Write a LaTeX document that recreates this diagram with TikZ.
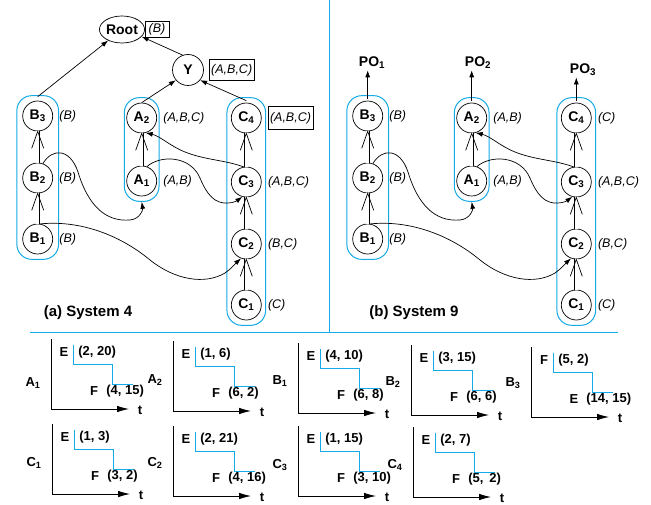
\documentclass[tikz,border=0pt]{standalone}
\usepackage{fontspec}
\setmainfont{Liberation Sans}
\usetikzlibrary{arrows.meta,positioning,shapes.geometric,fit}
\definecolor{grpblue}{RGB}{20,170,230}

\begin{document}
\begin{tikzpicture}[x=1pt, y=-1pt, line width=0.7pt,
    st/.style={circle, draw, minimum size=30pt, inner sep=0pt, font=\fontsize{14}{16}\selectfont\bfseries},
    lab/.style={inner sep=1pt, font=\fontsize{12.5}{14}\selectfont\itshape},
    tagbox/.style={draw, inner sep=2pt, font=\fontsize{12.5}{14}\selectfont\itshape},
    grp/.style={draw=grpblue, line width=1pt, rounded corners=15pt, inner ysep=5pt},
    arr/.style={-{Latex[length=7pt,width=5pt]}},
    dbl/.style={double, double distance=2.6pt, line width=0.6pt},
    po/.style={inner sep=1pt, font=\fontsize{14}{16}\selectfont\bfseries},
    ttl/.style={font=\fontsize{15}{17}\selectfont\bfseries},
    plt/.style={inner sep=0pt, font=\fontsize{13}{15}\selectfont\bfseries},
    axis/.style={line width=0.8pt, -{Latex[length=12pt,width=6.5pt]}},
    stair/.style={draw=grpblue, line width=0.9pt}]

  \useasboundingbox (0,0) rectangle (651,505);

  % both systems: same states, groups and data links
  \foreach \sys/\dx in {a/0, b/330} {
    \begin{scope}[xshift=\dx]
      \foreach \k/\y in {1/239, 2/178, 3/116} \node[st] (\sys-B\k) at (37.7,\y) {B\textsubscript{\k}};
      \foreach \k/\y in {1/181, 2/118} \node[st] (\sys-A\k) at (141.7,\y) {A\textsubscript{\k}};
      \foreach \k/\y in {1/305, 2/244, 3/182, 4/118} \node[st] (\sys-C\k) at (246.3,\y) {C\textsubscript{\k}};
      \node[grp, inner xsep=5.5pt, fit=(\sys-B1)(\sys-B3)] (\sys-gB) {};
      \node[grp, inner xsep=2pt, fit=(\sys-A1)(\sys-A2)] (\sys-gA) {};
      \node[grp, inner xsep=4pt, fit=(\sys-C1)(\sys-C4)] (\sys-gC) {};
      % refinement inside a chain
      \foreach \lo/\hi in {B1/B2, B2/B3, A1/A2, C1/C2, C2/C3, C3/C4} {
        \draw[dbl] (\sys-\lo) -- (\sys-\hi);
        \draw ([shift={(-6pt,-17pt)}]\sys-\hi.south) -- (\sys-\hi.south) -- ([shift={(6pt,-17pt)}]\sys-\hi.south);
      }
      % links between chains
      \draw[arr] (\sys-B2.70) .. controls (52,148) and (70,148) .. (78,172)
        .. controls (88,205) and (105,222) .. (130,220) .. controls (140,219) and (143,210) .. (\sys-gA.south);
      \draw[arr] (\sys-B1.80) .. controls (80,220) and (120,235) .. (150,260)
        .. controls (175,280) and (205,285) .. (225,273) .. controls (232,268) and (237,262) .. (\sys-C2.-110);
      \draw[arr] (\sys-A1.70) .. controls (160,155) and (190,155) .. (200,178)
        .. controls (207,195) and (215,204) .. (228,203) .. controls (234,203) and (238,200) .. (\sys-C3.-105);
      \draw[arr] (\sys-C3.100) .. controls (225,160) and (205,160) .. (185,152)
        .. controls (170,146) and (160,136) .. (\sys-A2.-75);
      \foreach \nd/\txt in {B1/(B), B2/(B), B3/(B), A1/{(A,B)}, C1/(C), C2/{(B,C)}, C3/{(A,B,C)}}
        \node[lab, right=5pt of \sys-\nd] (\sys-l\nd) {\txt};
    \end{scope}
  }

  % system 4: common root
  \node[ellipse, draw, minimum width=44pt, minimum height=27pt, inner sep=0pt,
    font=\fontsize{14}{16}\selectfont\bfseries] (root) at (122,29.5) {Root};
  \node[tagbox, inner xsep=3.5pt, minimum height=16pt, right=0pt of root] (root-tag) {(B)};
  \node[st, minimum size=31pt] (Y) at (188,70) {Y};
  \node[tagbox, minimum height=21pt, right=5pt of Y] (Y-tag) {(A,B,C)};
  \node[tagbox, minimum height=23pt, right=6pt of a-C4] (a-lC4) {(A,B,C)};
  \node[lab, right=5pt of a-A2] (a-lA2) {(A,B,C)};
  \draw[arr] ([yshift=4pt]a-B3.north) -- (root);
  \draw[arr] (Y.110) -- (root.-20);
  \draw[arr] (a-A2.north) -- (Y.-140);
  \draw[arr] ([yshift=2pt]a-C4.north) -- (Y.-40);
  \node[ttl] (ttl-a) at (88,313) {(a) System 4};

  % system 9: one output per chain
  \node[lab, right=5pt of b-A2] (b-lA2) {(A,B)};
  \node[lab, right=5pt of b-C4] (b-lC4) {(C)};
  \node[po] (po1) at (372,63) {PO\textsubscript{1}};
  \node[po] (po2) at (478,63) {PO\textsubscript{2}};
  \node[po] (po3) at (583,70) {PO\textsubscript{3}};
  \draw[arr] ([yshift=2pt]b-B3.north) -- (b-B3.north |- po1.south);
  \draw[arr] ([yshift=2pt]b-A2.north) -- (b-A2.north |- po2.south);
  \draw[arr] ([yshift=2pt]b-C4.north) -- (b-C4.north |- po3.south);
  \node[ttl] (ttl-b) at (414,313) {(b) System 9};

  \draw[grpblue] (329,0) -- (329,332);
  \draw[grpblue] (30,332) -- (618,332);

  % timing of each state: name, origin, name height, upper and lower step
  \foreach \nl/\ox/\oy/\ly/\ua/\uv/\la/\lv [count=\i] in {
      A\textsubscript{1}/51/409/383/E/{(2, 20)}/F/{(4, 15)},
      A\textsubscript{2}/173/411/380/E/{(1, 6)}/F/{(6, 2)},
      B\textsubscript{1}/298/413/381/E/{(4, 10)}/F/{(6, 8)},
      B\textsubscript{2}/411/415/382/E/{(3, 15)}/F/{(6, 6)},
      B\textsubscript{3}/531/417/383/F/{(5, 2)}/E/{(14, 15)},
      C\textsubscript{1}/52/494/463/E/{(1, 3)}/F/{(3, 2)},
      C\textsubscript{2}/173/496/463/E/{(2, 21)}/F/{(4, 16)},
      C\textsubscript{3}/298/496/465/E/{(1, 15)}/F/{(3, 10)},
      C\textsubscript{4}/413/497/465/E/{(2, 7)}/F/{(5, \,2)}} {
    \coordinate (o\i) at (\ox,\oy);
    \draw[axis] ([yshift=70pt]o\i) -- (o\i) -- ([xshift=78pt]o\i);
    \draw[stair] ([shift={(22pt,64pt)}]o\i) -- ++(0,19) -- ++(39,0) -- ++(0,20) -- ++(21,0);
    \node[plt] (p\i-nm) at (\ox-18,\ly) {\nl};
    \node[plt] (p\i-ua) at ([shift={(13pt,57pt)}]o\i) {\ua};
    \node[plt, anchor=west] (p\i-uv) at ([shift={(27pt,57pt)}]o\i) {\uv};
    \node[plt] (p\i-la) at ([shift={(43pt,18pt)}]o\i) {\la};
    \node[plt, anchor=west] (p\i-lv) at ([shift={(55pt,18pt)}]o\i) {\lv};
    \node[plt] (p\i-t) at ([shift={(89pt,-1pt)}]o\i) {t};
  }
\end{tikzpicture}
\end{document}
